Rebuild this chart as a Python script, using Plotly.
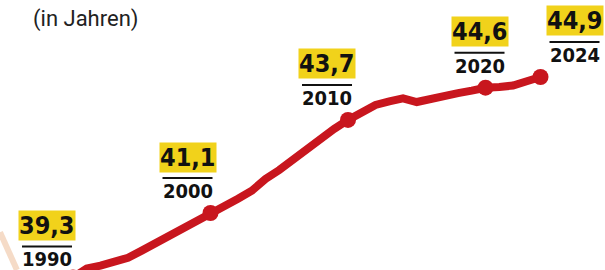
import plotly.graph_objects as go

# ---- data ----
years = list(range(1990, 2025))
ages = [39.3, 39.55, 39.63, 39.72, 39.85, 40.05, 40.25, 40.45, 40.65, 40.9,
        41.1, 41.3, 41.5, 41.72, 42.05, 42.3, 42.6, 42.9, 43.2, 43.45,
        43.7, 43.92, 44.12, 44.22, 44.3, 44.2, 44.3, 44.38, 44.45, 44.52,
        44.6, 44.62, 44.66, 44.78, 44.9]
label_years = [1990, 2000, 2010, 2020, 2024]
label_texts = ["39,3", "41,1", "43,7", "44,6", "44,9"]
label_dx = [-26, -23, -21, -6, 34]    # horizontal offset of label block (px)
label_dy = [-4, 0, 0, 0, 0]           # vertical tweak of label block (px)
unit_text = "(in Jahren)"

RED = "#c8161e"
YELLOW = "#f1d21b"
VAL_FONT = "DejaVu Sans Condensed"
CLEAR = "rgba(0,0,0,0)"

fig = go.Figure()
fig.add_trace(go.Scatter(
    x=years, y=ages, mode="lines",
    line=dict(color=RED, width=8, shape="linear"),
    hoverinfo="skip", showlegend=False))
lab_vals = [ages[years.index(y)] for y in label_years]
fig.add_trace(go.Scatter(
    x=label_years, y=lab_vals, mode="markers",
    marker=dict(color=RED, size=16, line=dict(width=0)),
    hoverinfo="skip", showlegend=False))

for yr, v, t, dx, dy in zip(label_years, lab_vals, label_texts, label_dx, label_dy):
    # text sits at the (invisible) arrow tail = the data point; the head is kept
    # inside the axis range so that labels of clipped points still show
    common = dict(x=yr, y=44.0, xref="x", yref="y", showarrow=True,
                  arrowcolor=CLEAR, arrowwidth=0.1, arrowhead=0,
                  axref="x", ayref="y", ax=yr, ay=v, xshift=dx)
    fig.add_annotation(text=t, yshift=56 + dy, bgcolor=YELLOW, borderpad=0,
                       font=dict(family=VAL_FONT, size=25, color="#111", weight=700),
                       **common)
    fig.add_annotation(text=str(yr), yshift=22 + dy,
                       font=dict(family=VAL_FONT, size=20, color="#111", weight=700),
                       **common)
    fig.add_shape(type="line", xref="x", yref="y", xsizemode="pixel", ysizemode="pixel",
                  xanchor=yr, yanchor=v, x0=dx - 25, x1=dx + 25, y0=35 + dy, y1=35 + dy,
                  line=dict(color="#111", width=2))

# faint decorative stroke in the lower-left corner (part of a cropped photo)
fig.add_shape(type="path", xref="paper", yref="paper",
              path="M 0,0.14 L 0.028,0.0", line=dict(color="#f2cdb0", width=6),
              opacity=0.7, layer="below")

fig.add_annotation(x=0.052, y=0.985, xref="paper", yref="paper", xanchor="left", yanchor="top",
                   text=unit_text, showarrow=False,
                   font=dict(family="Roboto", size=22, color="#222"))

fig.update_xaxes(visible=False, range=[1984.69, 2028.69], fixedrange=True)
fig.update_yaxes(visible=False, range=[39.508, 47.05], fixedrange=True)
fig.update_layout(width=605, height=270, margin=dict(l=0, r=0, t=0, b=0),
                  paper_bgcolor="white", plot_bgcolor="white")
fig.write_html("out.html", config={"displayModeBar": False},
               post_script="document.body.style.margin='0';")
